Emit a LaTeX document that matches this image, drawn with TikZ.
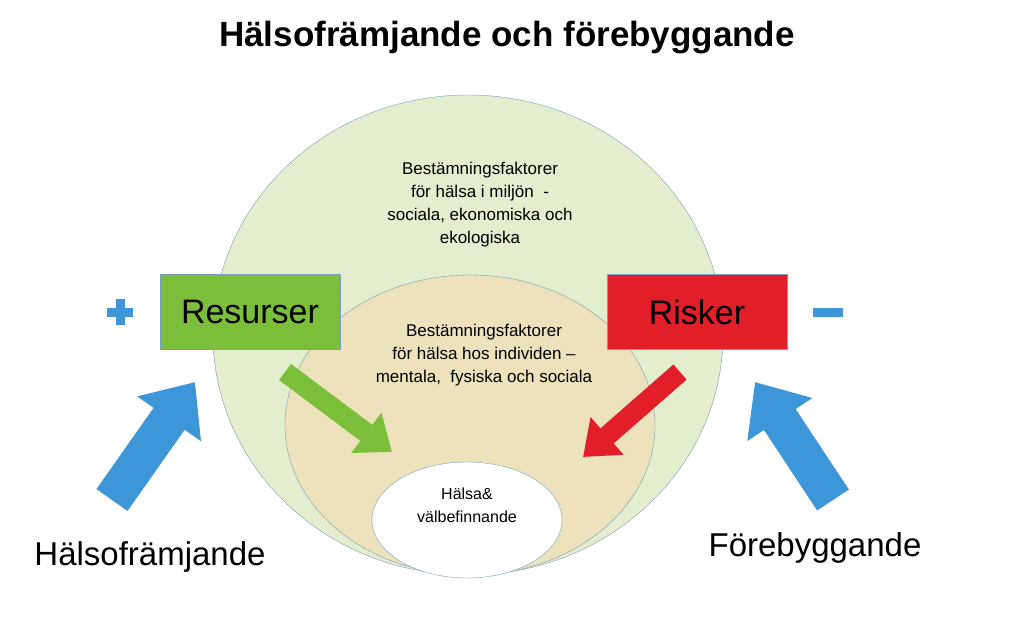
\documentclass[tikz,border=0pt]{standalone}
\usepackage{fontspec}
\setmainfont{Liberation Sans}
\usetikzlibrary{positioning,arrows.meta}

\definecolor{outerfill}{RGB}{226,238,205}
\definecolor{innerfill}{RGB}{238,226,188}
\definecolor{ringline}{RGB}{120,160,190}
\definecolor{resgreen}{RGB}{122,190,58}
\definecolor{riskred}{RGB}{226,30,40}
\definecolor{skyblue}{RGB}{60,150,215}

\tikzset{
  box/.style={draw=ringline,line width=1pt,minimum width=180pt,minimum height=75pt,font=\fontsize{34}{36}\selectfont},
  circletext/.style={align=center,font=\fontsize{17}{23}\selectfont},
  bigarrow/.style={line width=38pt,skyblue,-{Triangle[length=45pt,width=75pt]}},
  smallarrow/.style={line width=20pt,-{Triangle[length=32pt,width=48pt]}},
  sidelabel/.style={font=\fontsize{33}{36}\selectfont},
  signbar/.style={line width=9pt,skyblue}
}

\begin{document}
\begin{tikzpicture}[x=1pt,y=1pt]
  \useasboundingbox (0,0) rectangle (1024,-620);
  % circles
  \draw[ringline,fill=outerfill] (468,-335) ellipse (255 and 240);
  \draw[ringline,fill=innerfill] (470,-425) ellipse (185 and 150);
  \draw[ringline,fill=white] (467,-520) ellipse (95 and 58);
  % texts
  \node[font=\bfseries\fontsize{35}{38}\selectfont] (title) at (507,-38) {Hälsofrämjande och förebyggande};
  \node[circletext] (outer) at (480,-205) {Bestämningsfaktorer\\för hälsa i miljön \ -\\sociala, ekonomiska och\\ekologiska};
  \node[circletext] (inner) at (484,-355) {Bestämningsfaktorer\\för hälsa hos individen –\\mentala, \ fysiska och sociala};
  \node[circletext,font=\fontsize{16}{23}\selectfont] (health) at (467,-505) {Hälsa\&\\välbefinnande};
  % boxes
  \node[box,fill=resgreen] (res) at (250,-312) {Resurser};
  \node[box,fill=riskred] (risk) at (697,-312) {Risker};
  \coordinate (plus) at (120,-312);
  \coordinate (minus) at (828,-312);
  \draw[signbar] ([xshift=-13pt]plus) -- ([xshift=13pt]plus);
  \draw[signbar] ([yshift=-13pt]plus) -- ([yshift=13pt]plus);
  \draw[signbar] ([xshift=-15pt]minus) -- ([xshift=15pt]minus);
  \node[sidelabel] (promo) at (150,-557) {Hälsofrämjande};
  \node[sidelabel] (prev) at (815,-548) {Förebyggande};
  % arrows
  \coordinate (gs) at (285,-372);
  \coordinate (ge) at (392,-452);
  \coordinate (rs) at (680,-372);
  \coordinate (re) at (583,-457);
  \coordinate (ls) at (112,-500);
  \coordinate (le) at (195,-382);
  \coordinate (rts) at (833,-500);
  \coordinate (rte) at (755,-382);
  \draw[smallarrow,resgreen] (gs) -- (ge);
  \draw[smallarrow,riskred] (rs) -- (re);
  \draw[bigarrow] (ls) -- (le);
  \draw[bigarrow] (rts) -- (rte);
\end{tikzpicture}
\end{document}
